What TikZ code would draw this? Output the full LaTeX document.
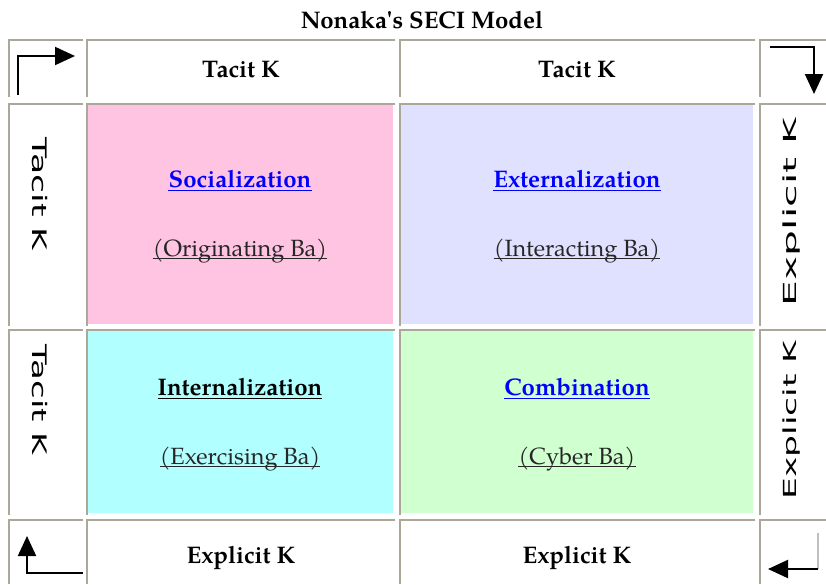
\documentclass[tikz,border=0pt]{standalone}
\usepackage{fontspec}
\setmainfont{TeX Gyre Pagella}
\newfontfamily\sidefont{DejaVu Sans}
\usetikzlibrary{arrows.meta}

\definecolor{cellgray}{HTML}{ACA899}
\definecolor{socpink}{HTML}{FFC4E1}
\definecolor{extlav}{HTML}{E0E0FF}
\definecolor{intcyan}{HTML}{B2FFFF}
\definecolor{combgreen}{HTML}{D0FFD0}
\definecolor{linkblue}{HTML}{0000FF}

\tikzset{
  cellrule/.style={draw=cellgray, line width=2pt},
  headtext/.style={font=\fontsize{24}{28}\selectfont\bfseries, inner sep=0pt, anchor=base},
  modetext/.style={font=\fontsize{24}{28}\selectfont\bfseries, inner sep=0pt, anchor=base},
  batext/.style={font=\fontsize{23.5}{28}\selectfont, text=black!85, inner sep=0pt, anchor=base},
  sidetext/.style={font=\sidefont\fontsize{18}{20}\selectfont, inner sep=0pt, anchor=base},
  corner/.style={line width=2pt, -{Triangle[length=20pt,width=18pt]}}
}

\begin{document}
\begin{tikzpicture}[x=1pt,y=-1pt]
\useasboundingbox (0,0) rectangle (826,584);
\fill[socpink] (88,105) rectangle (393,324);
\fill[extlav] (401,105) rectangle (753,324);
\fill[intcyan] (88,331) rectangle (393,513);
\fill[combgreen] (401,331) rectangle (753,513);

\draw[cellrule] (9,97) -- (9,40) -- (83,40);
\draw[cellrule] (87,97) -- (87,40) -- (395,40);
\draw[cellrule] (400,97) -- (400,40) -- (755,40);
\draw[cellrule] (760,97) -- (760,40) -- (826,40);
\draw[cellrule] (9,326) -- (9,104) -- (83,104);
\draw[cellrule] (87,326) -- (87,104) -- (395,104);
\draw[cellrule] (400,326) -- (400,104) -- (755,104);
\draw[cellrule] (760,326) -- (760,104) -- (826,104);
\draw[cellrule] (9,515) -- (9,330) -- (83,330);
\draw[cellrule] (87,515) -- (87,330) -- (395,330);
\draw[cellrule] (400,515) -- (400,330) -- (755,330);
\draw[cellrule] (760,515) -- (760,330) -- (826,330);
\draw[cellrule] (9,584) -- (9,520) -- (83,520);
\draw[cellrule] (87,584) -- (87,520) -- (395,520);
\draw[cellrule] (400,584) -- (400,520) -- (755,520);
\draw[cellrule] (760,584) -- (760,520) -- (826,520);

\node[headtext] (title) at (422,28) {Nonaka\textquotesingle s SECI Model};
\node[headtext] (tacitA) at (241,77) {Tacit K};
\node[headtext] (tacitB) at (577,77) {Tacit K};
\node[headtext] (explA) at (241,563) {Explicit K};
\node[headtext] (explB) at (577,563) {Explicit K};

\node[sidetext, font=\sidefont\fontsize{20}{22}\selectfont, rotate=-90] (sideTA) at (32,194) {\scalebox{1.73}[1]{Tacit K}};
\node[sidetext, font=\sidefont\fontsize{20}{22}\selectfont, rotate=-90] (sideTB) at (32,400) {\scalebox{1.7}[1]{Tacit K}};
\node[sidetext, rotate=90] (sideEA) at (796,212) {\scalebox{2.27}[1]{Explicit K}};
\node[sidetext, rotate=90] (sideEB) at (796,420) {\scalebox{1.92}[1]{Explicit K}};

\node[modetext, text=linkblue] (soc) at (240,187) {Socialization};
\node[batext] (socba) at (240,256) {(Originating Ba)};
\node[modetext, text=linkblue] (ext) at (577,187) {Externalization};
\node[batext] (extba) at (577,256) {(Interacting Ba)};
\node[modetext] (int) at (240,395) {Internalization};
\node[batext] (intba) at (240,464) {(Exercising Ba)};
\node[modetext, text=linkblue] (comb) at (577,395) {Combination};
\node[batext] (combba) at (577,464) {(Cyber Ba)};

\draw[linkblue, line width=1.8pt] ([yshift=-3.5pt]soc.base west) -- ([yshift=-3.5pt]soc.base east);
\draw[linkblue, line width=1.8pt] ([yshift=-3.5pt]ext.base west) -- ([yshift=-3.5pt]ext.base east);
\draw[line width=1.8pt] ([yshift=-3.5pt]int.base west) -- ([yshift=-3.5pt]int.base east);
\draw[linkblue, line width=1.8pt] ([yshift=-3.5pt]comb.base west) -- ([yshift=-3.5pt]comb.base east);
\draw[black!85, line width=1.6pt] ([yshift=-2.5pt]socba.base west) -- ([yshift=-2.5pt]socba.base east);
\draw[black!85, line width=1.6pt] ([yshift=-2.5pt]extba.base west) -- ([yshift=-2.5pt]extba.base east);
\draw[black!85, line width=1.6pt] ([yshift=-2.5pt]intba.base west) -- ([yshift=-2.5pt]intba.base east);
\draw[black!85, line width=1.6pt] ([yshift=-2.5pt]combba.base west) -- ([yshift=-2.5pt]combba.base east);

\coordinate (tlfoot) at (18,95);
\coordinate (tlbend) at (18,56);
\coordinate (tltip) at (75,56);
\coordinate (trfoot) at (770,47);
\coordinate (trbend) at (814,47);
\coordinate (trtip) at (814,94);
\coordinate (blfoot) at (83,573);
\coordinate (blbend) at (27,573);
\coordinate (bltip) at (27,536);
\coordinate (brfoot) at (818,533);
\coordinate (brbend) at (818,569);
\coordinate (brtip) at (768,569);
\draw[corner] (tlfoot) -- (tlbend) -- (tltip);
\draw[corner] (trfoot) -- (trbend) -- (trtip);
\draw[corner] (blfoot) -- (blbend) -- (bltip);
\draw[line width=1.2pt, color=black!25] (brfoot) -- (brbend);
\draw[corner] (brbend) -- (brtip);
\end{tikzpicture}
\end{document}
